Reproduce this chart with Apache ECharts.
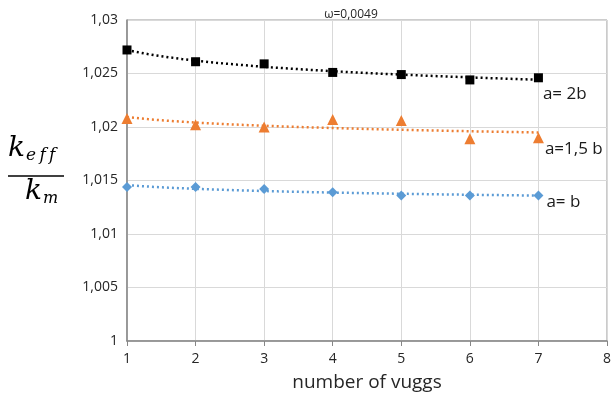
<!DOCTYPE html>
<html>
<head>
<meta charset="utf-8">
<script src="https://cdn.jsdelivr.net/npm/echarts@6/dist/echarts.min.js"></script>
<style>
  html, body { margin: 0; padding: 0; background: #fff; }
  #chart { width: 614px; height: 403px; }
</style>
</head>
<body>
<div id="chart"></div>
<script>
// Number of vuggs on the x axis
const vuggs = [1, 2, 3, 4, 5, 6, 7];
// k_eff / k_m for each aspect ratio
const ratio2b = [1.0272, 1.0261, 1.0259, 1.0251, 1.0249, 1.0244, 1.0246];
const ratio15b = [1.0208, 1.0202, 1.0200, 1.0207, 1.0206, 1.0189, 1.0190];
const ratioB = [1.0144, 1.0144, 1.0142, 1.0139, 1.0136, 1.0136, 1.0136];
const seriesNames = ['a= 2b', 'a=1,5 b', 'a= b'];
const chartTitle = 'ω=0,0049';
const xAxisTitle = 'number of vuggs';

// Logarithmic least-squares trend line y = a + b ln(x)
function logTrend(xs, ys) {
  const n = xs.length;
  const lx = xs.map(Math.log);
  const mx = lx.reduce((s, v) => s + v, 0) / n;
  const my = ys.reduce((s, v) => s + v, 0) / n;
  let sxy = 0, sxx = 0;
  for (let i = 0; i < n; i++) {
    sxy += (lx[i] - mx) * (ys[i] - my);
    sxx += (lx[i] - mx) * (lx[i] - mx);
  }
  const b = sxy / sxx;
  const a = my - b * mx;
  const pts = [];
  const x0 = xs[0], x1 = xs[n - 1];
  for (let k = 0; k <= 60; k++) {
    const x = x0 + (x1 - x0) * k / 60;
    pts.push([x, a + b * Math.log(x)]);
  }
  return pts;
}

const colors = ['#000000', '#ed7d31', '#5b9bd5'];
const symbols = ['rect', 'triangle', 'diamond'];
const symbolSizes = [9, 11, 10];
const labelOffsets = [[-5, 16], [-4, 11], [-2, 7]];
const allValues = [ratio2b, ratio15b, ratioB];

const series = [];
allValues.forEach((vals, s) => {
  series.push({
    type: 'line',
    data: logTrend(vuggs, vals),
    showSymbol: false,
    silent: true,
    z: 2,
    lineStyle: { color: colors[s], width: 2.5, type: [2, 3], cap: 'butt', opacity: 1 }
  });
  series.push({
    type: 'scatter',
    name: seriesNames[s],
    symbol: symbols[s],
    symbolSize: symbolSizes[s],
    itemStyle: { color: colors[s], opacity: 1 },
    z: 3,
    data: vals.map((v, i) => {
      const item = { value: [vuggs[i], v] };
      if (i === vals.length - 1) {
        item.label = {
          show: true,
          position: 'right',
          offset: labelOffsets[s],
          formatter: seriesNames[s],
          color: '#1a1a1a',
          fontSize: 17,
          fontFamily: 'Open Sans'
        };
      }
      return item;
    })
  });
});

const fracText = (main, sub, subSize) => ({
  text: '{k|' + main + '}{s|' + sub + '}',
  rich: {
    k: { fontSize: 28, fontStyle: 'italic', fontFamily: 'DejaVu Serif', fill: '#000' },
    s: { fontSize: subSize, fontStyle: 'italic', fontFamily: 'DejaVu Serif', fill: '#000', padding: [13, 0, 0, 1] }
  }
});

const chart = echarts.init(document.getElementById('chart'), null, { renderer: 'canvas' });
chart.setOption({
  animation: false,
  backgroundColor: '#ffffff',
  grid: { left: 127, right: 5, top: 20, bottom: 62, show: true, borderColor: '#9a9a9a', borderWidth: 1 },
  title: {
    text: chartTitle,
    left: 346,
    top: 4,
    textAlign: 'center',
    textStyle: { fontSize: 12, fontWeight: 'normal', color: '#262626', fontFamily: 'Open Sans' }
  },
  xAxis: {
    type: 'value',
    min: 1, max: 8, interval: 1,
    name: xAxisTitle,
    nameLocation: 'middle',
    nameGap: 32,
    nameTextStyle: { fontSize: 19, color: '#262626', fontFamily: 'Open Sans' },
    axisLine: { show: true, lineStyle: { color: '#868686', width: 1.5 } },
    axisTick: { show: true, length: 5, lineStyle: { color: '#868686' } },
    axisLabel: { fontSize: 14, color: '#262626', margin: 11, fontFamily: 'Open Sans' },
    splitLine: { show: true, lineStyle: { color: '#d9d9d9' } }
  },
  yAxis: {
    type: 'value',
    min: 1, max: 1.03, interval: 0.005,
    axisLine: { show: true, lineStyle: { color: '#868686', width: 1.5 } },
    axisTick: { show: false },
    axisLabel: {
      fontSize: 14, color: '#262626', margin: 9, fontFamily: 'Open Sans',
      formatter: v => String(+v.toFixed(3)).replace('.', ',')
    },
    splitLine: { show: true, lineStyle: { color: '#d9d9d9' } }
  },
  graphic: [
    { type: 'text', left: 8, top: 135, style: fracText('k', 'e\u2009f\u2009f', 17) },
    {
      type: 'line',
      shape: { x1: 8, y1: 176, x2: 64, y2: 176 },
      style: { stroke: '#000', lineWidth: 1.5 }
    },
    { type: 'text', left: 25, top: 178, style: fracText('k', 'm', 16) }
  ],
  series: series
});
</script>
</body>
</html>
